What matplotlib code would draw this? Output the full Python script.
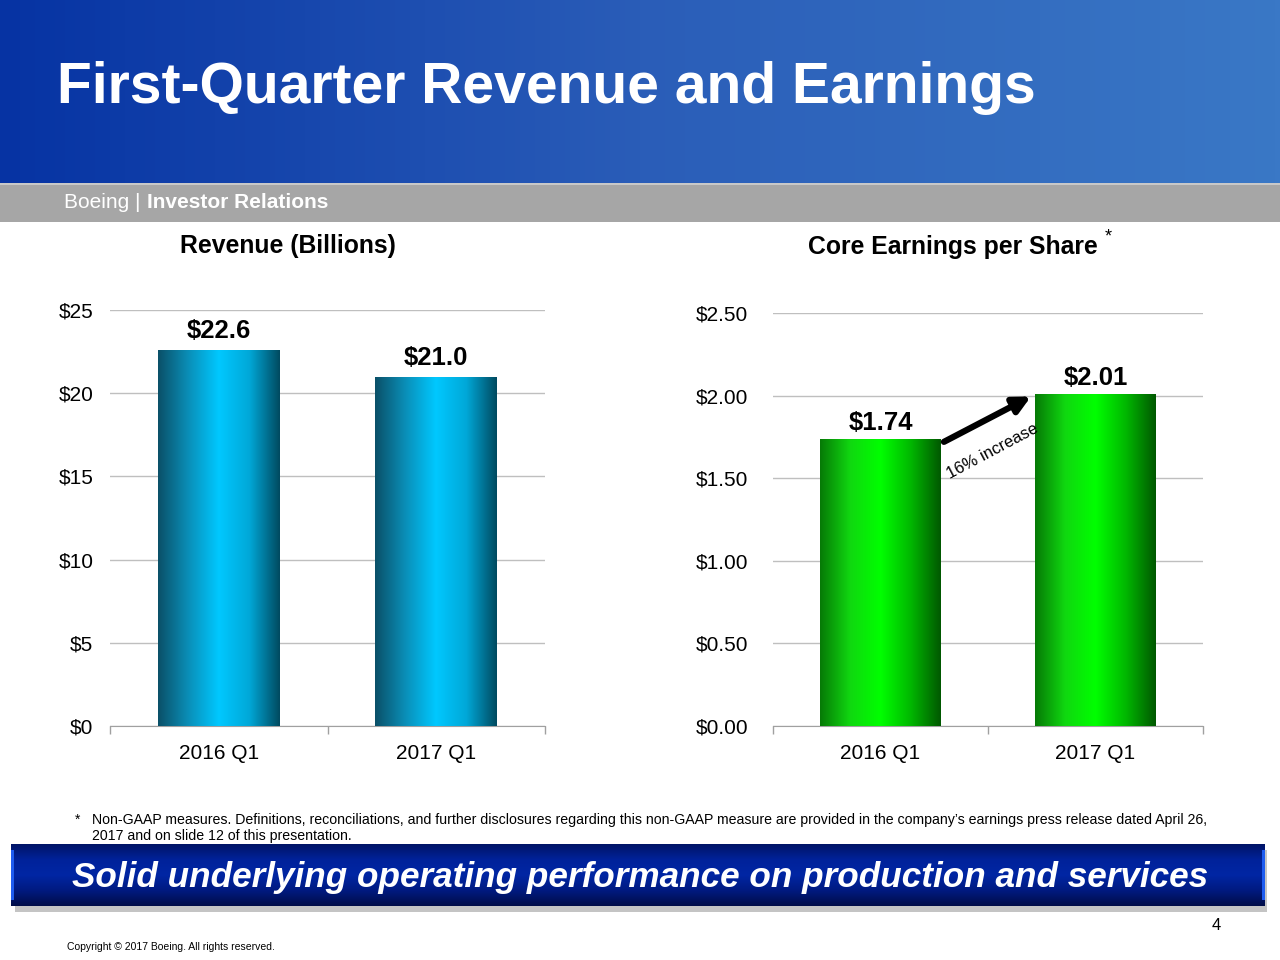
"""Boeing first-quarter revenue and core EPS slide"""
import numpy as np
import matplotlib
matplotlib.use("Agg")
import matplotlib.pyplot as plt
from matplotlib.colors import LinearSegmentedColormap
from matplotlib.patches import Rectangle

# data
quarters = ["2016 Q1", "2017 Q1"]
revenue = [22.6, 21.0]
revenue_labels = ["$22.6", "$21.0"]
rev_ticks = [0, 5, 10, 15, 20, 25]
rev_tick_labels = ["$0", "$5", "$10", "$15", "$20", "$25"]
eps = [1.74, 2.01]
eps_labels = ["$1.74", "$2.01"]
eps_ticks = [0, 0.5, 1.0, 1.5, 2.0, 2.5]
eps_tick_labels = ["$0.00", "$0.50", "$1.00", "$1.50", "$2.00", "$2.50"]

plt.rcParams["font.family"] = ["Liberation Sans", "DejaVu Sans"]
W, H = 1280, 960
fig = plt.figure(figsize=(12.8, 9.6), dpi=100)
fig.patch.set_facecolor("white")


def fx(x):
    return x / W


def fy(y):
    return 1 - y / H


# background layer in pixel coordinates
bg = fig.add_axes([0, 0, 1, 1], zorder=-10)
bg.set_xlim(0, W)
bg.set_ylim(H, 0)
bg.axis("off")

header = LinearSegmentedColormap.from_list("hdr", ["#0633a3", "#2a5db8", "#3a78c6"])
bg.imshow(np.linspace(0, 1, 256)[None, :], cmap=header, aspect="auto",
          extent=[0, W, 183, 0], zorder=0)
bg.add_patch(Rectangle((0, 183), W, 39, color="#a6a6a6", lw=0, zorder=1))
bg.add_patch(Rectangle((0, 183), W, 2, color="#c8c8c8", lw=0, zorder=1))

# bottom banner
banner = LinearSegmentedColormap.from_list(
    "ban", ["#001466", "#00229a", "#0026a4", "#001a80", "#000c48"])
bg.add_patch(Rectangle((15, 850), 1252, 62, color="#c4c4c4", lw=0, zorder=1))
bg.imshow(np.linspace(0, 1, 128)[:, None], cmap=banner, aspect="auto",
          extent=[11, 1265, 906, 844], zorder=2)
bg.add_patch(Rectangle((11, 850), 3, 50, color="#1e5cf0", lw=0, zorder=3))
bg.add_patch(Rectangle((1262, 850), 3, 50, color="#1e5cf0", lw=0, zorder=3))
bg.set_xlim(0, W)
bg.set_ylim(H, 0)

fig.text(fx(57), fy(88), "First-Quarter Revenue and Earnings", color="white",
         fontsize=41, fontweight="bold", va="center", ha="left")
fig.text(fx(64), fy(202), "Boeing | ", color="white", fontsize=15,
         va="center", ha="left")
fig.text(fx(147), fy(202), "Investor Relations", color="white", fontsize=15,
         fontweight="bold", va="center", ha="left")

fig.text(fx(288), fy(246), "Revenue (Billions)", fontsize=17.8,
         fontweight="bold", ha="center", va="center")
fig.text(fx(953), fy(247), "Core Earnings per Share", fontsize=17.8,
         fontweight="bold", ha="center", va="center")
fig.text(fx(1108), fy(237), "*", fontsize=13, ha="center", va="center")

fig.text(fx(75), fy(820), "*", fontsize=10, ha="left", va="center")
fig.text(fx(92), fy(820),
         "Non-GAAP measures. Definitions, reconciliations, and further disclosures "
         "regarding this non-GAAP measure are provided in the company\u2019s earnings "
         "press release dated April 26,", fontsize=10.2, ha="left", va="center")
fig.text(fx(92), fy(836), "2017 and on slide 12 of this presentation.",
         fontsize=10.2, ha="left", va="center")
fig.text(fx(640), fy(878),
         "Solid underlying operating performance on production and services",
         color="white", fontsize=25.3, fontweight="bold", fontstyle="italic",
         ha="center", va="center")
fig.text(fx(1216), fy(925), "4", fontsize=12, ha="center", va="center")
fig.text(fx(67), fy(947), "Copyright \u00a9 2017 Boeing. All rights reserved.",
         fontsize=7.5, ha="left", va="center")

blue_cmap = LinearSegmentedColormap.from_list(
    "blue", ["#0b5068", "#0a8fb8", "#00c8ff", "#00a8d8", "#004a60"])
green_cmap = LinearSegmentedColormap.from_list(
    "green", ["#067a06", "#10d810", "#00ff00", "#00b800", "#005800"])


def panel(rect, values, labels, ticks, tick_labels, cmap, pad, off):
    ax = fig.add_axes(rect)
    bars = ax.bar(range(len(quarters)), values, width=0.56, color="none", zorder=3)
    grad = np.linspace(0, 1, 256)[None, :]
    for b in bars:
        x0, y0 = b.get_x(), b.get_y()
        im = ax.imshow(grad, cmap=cmap, aspect="auto", zorder=3,
                       extent=[x0, x0 + b.get_width(), y0, y0 + b.get_height()])
        im.set_clip_path(b)
    for i, (v, lab) in enumerate(zip(values, labels)):
        ax.annotate(lab, (i, v), xytext=(0, off), textcoords="offset points",
                    ha="center", va="center", fontsize=18.5, fontweight="bold")
    ax.set_xlim(-0.5, 1.5)
    ax.set_ylim(ticks[0], ticks[-1])
    ax.set_yticks(ticks)
    ax.set_yticklabels(tick_labels)
    ax.set_xticks(range(len(quarters)))
    ax.set_xticklabels(quarters)
    ax.set_xticks([-0.5, 0.5, 1.5], minor=True)
    ax.tick_params(axis="x", which="major", length=0, labelsize=15, pad=13)
    ax.tick_params(axis="x", which="minor", length=6, color="#a0a0a0", width=1)
    ax.tick_params(axis="y", length=0, labelsize=15, pad=pad)
    ax.grid(axis="y", color="#bfbfbf", lw=1, zorder=0)
    ax.set_axisbelow(True)
    for s in ["top", "right", "left"]:
        ax.spines[s].set_visible(False)
    ax.spines["bottom"].set_color("#a0a0a0")
    ax.set_facecolor("none")
    return ax


ax1 = panel([fx(110), fy(726), fx(435), 416 / H], revenue, revenue_labels,
            rev_ticks, rev_tick_labels, blue_cmap, 12, 13.5)
ax2 = panel([fx(773), fy(726), fx(430), 413 / H], eps, eps_labels,
            eps_ticks, eps_tick_labels, green_cmap, 18, 11.5)

ax2.annotate("", xy=(0.70, 1.995), xytext=(0.295, 1.72),
             arrowprops=dict(arrowstyle="-|>,head_length=1.0,head_width=0.5",
                             color="black", lw=4.5, shrinkA=0, shrinkB=0))
ax2.text(0.52, 1.66, "16% increase", rotation=28, fontsize=12,
         ha="center", va="center")

fig.savefig("out.png", dpi=100)
